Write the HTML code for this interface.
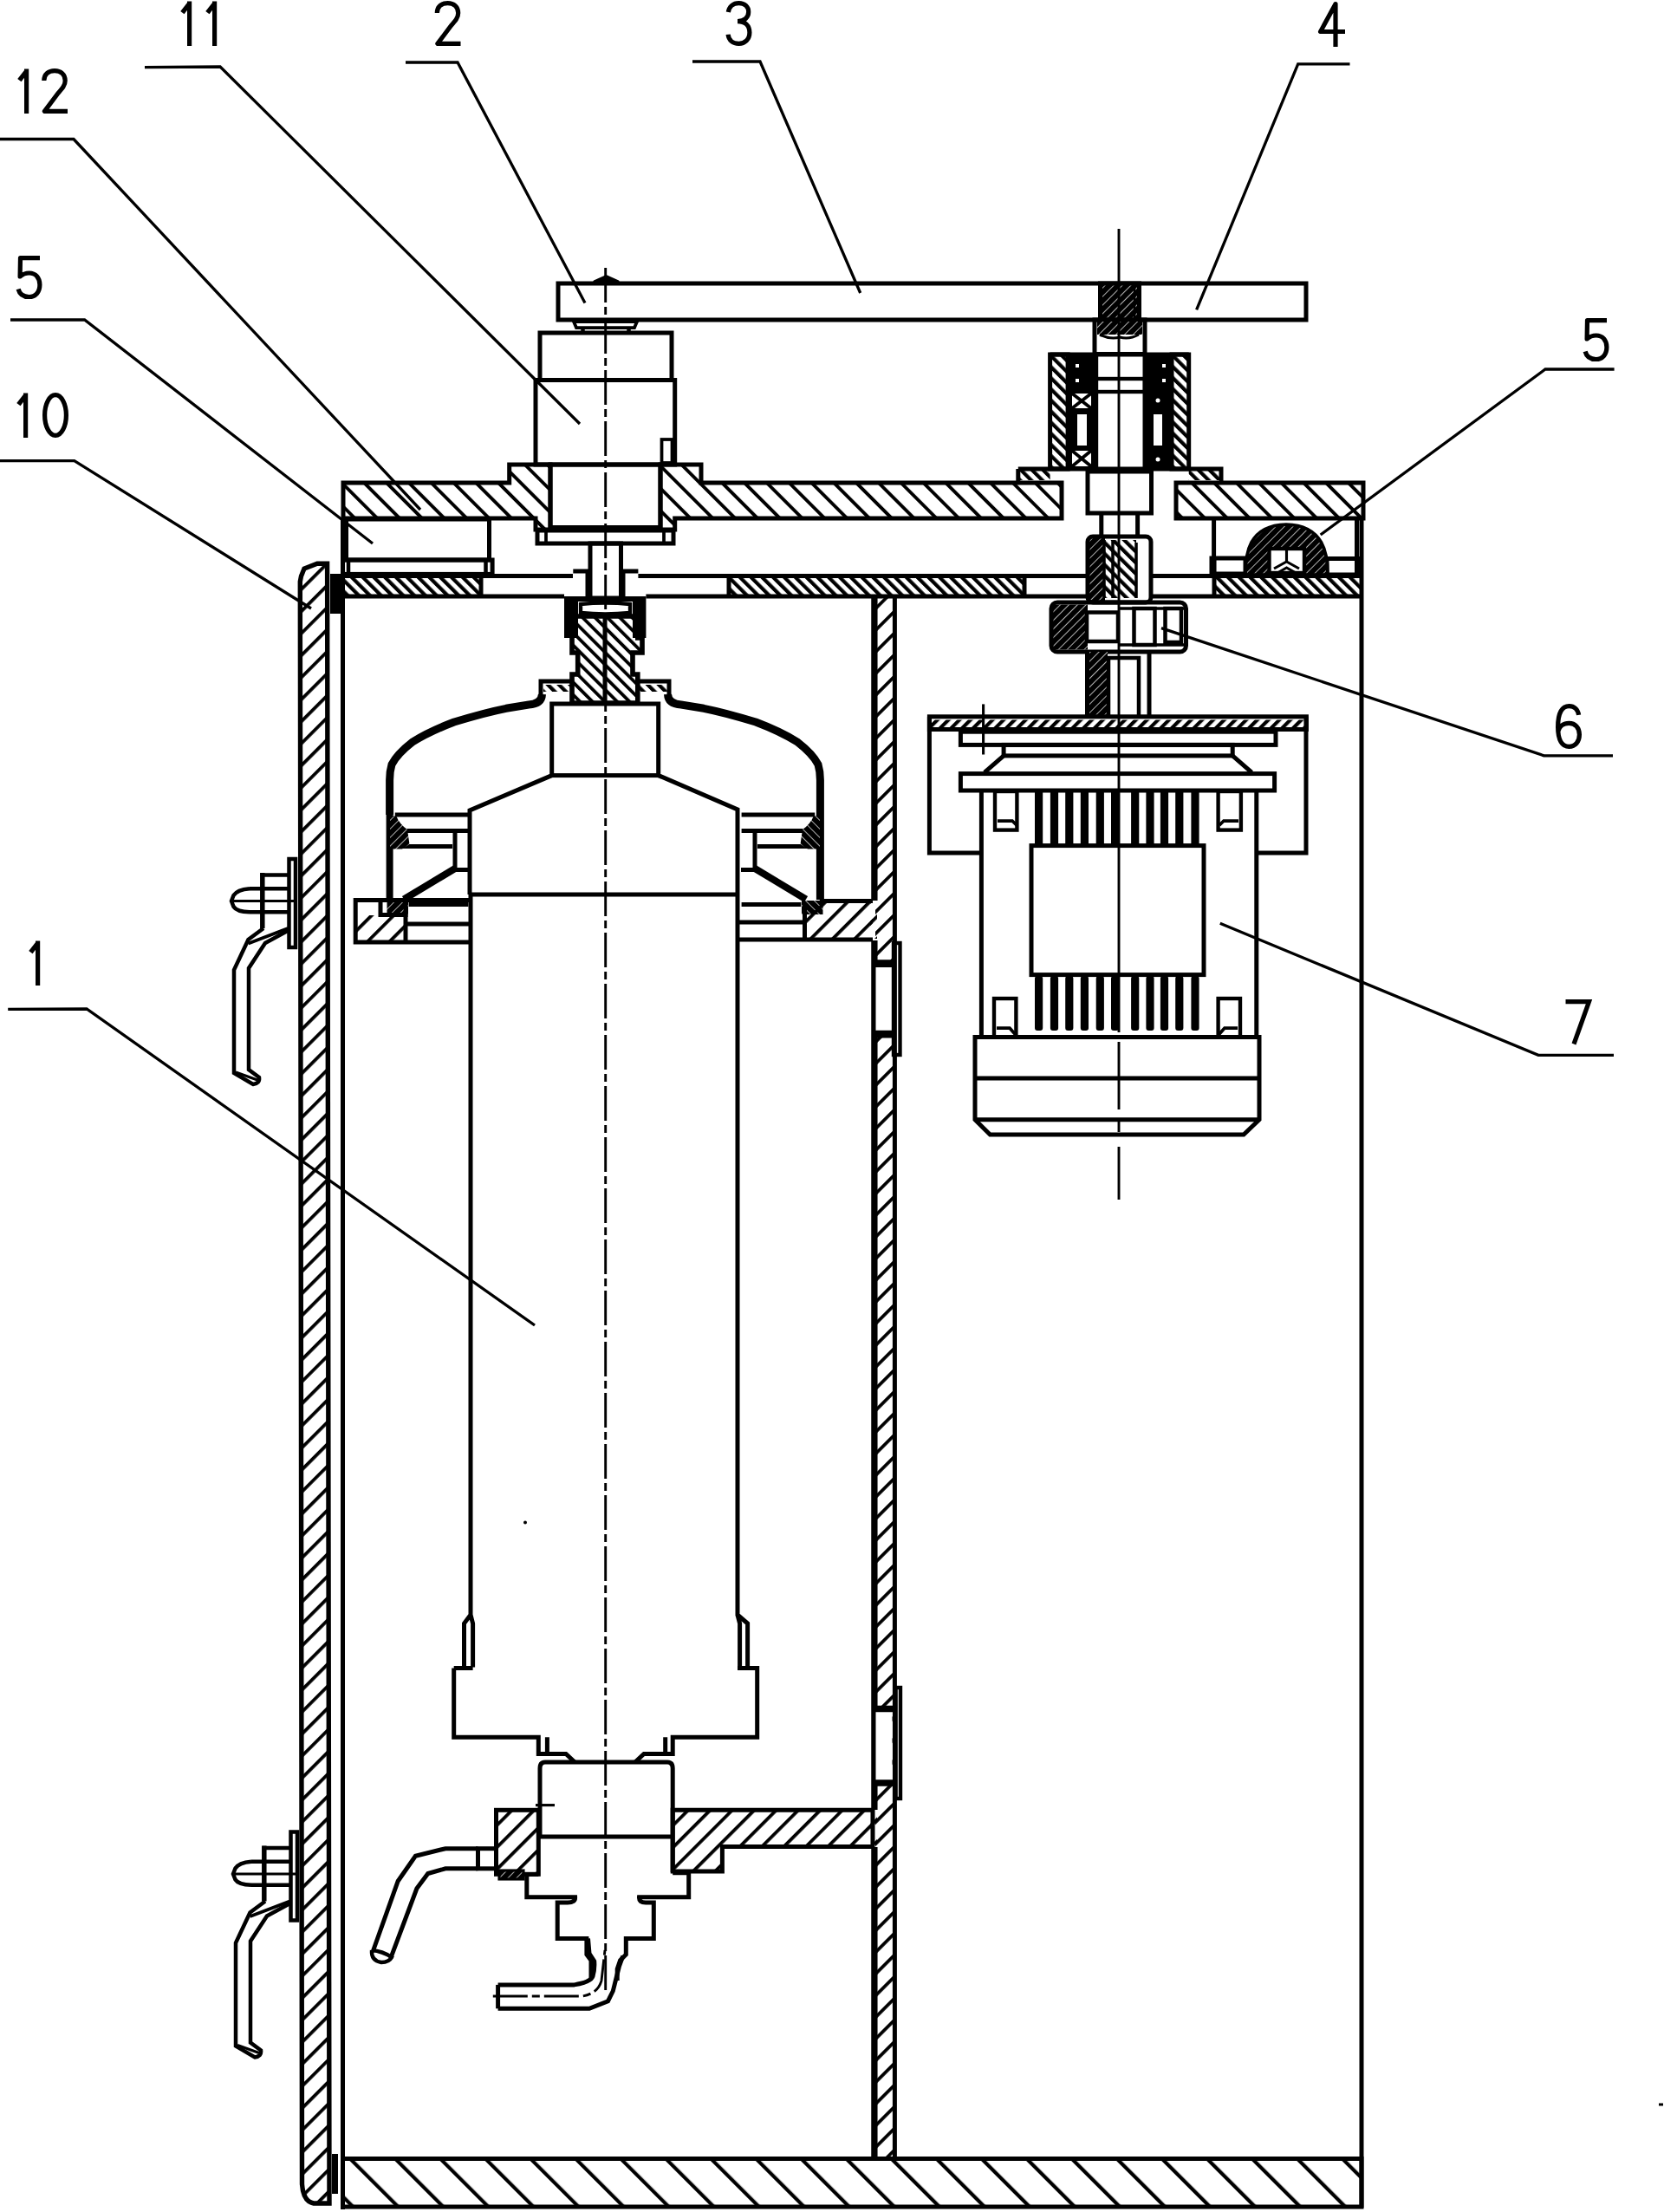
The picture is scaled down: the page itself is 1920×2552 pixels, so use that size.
<!DOCTYPE html>
<html><head><meta charset="utf-8"><title>Drawing</title>
<style>
html,body{margin:0;padding:0;background:#fff;}
svg{display:block;}
text{font-family:"Liberation Sans",sans-serif;}
</style></head>
<body>
<svg width="1920" height="2552" viewBox="0 0 1920 2552">
<defs>
<pattern id="hb25" patternUnits="userSpaceOnUse" width="18.25" height="18.25" patternTransform="rotate(-45) translate(10.8,0)"><rect x="0" y="0" width="3.9" height="18.25" fill="#000"/></pattern>
<pattern id="hf25" patternUnits="userSpaceOnUse" width="17.967" height="17.967" patternTransform="rotate(45) translate(6.05,0)"><rect x="0" y="0" width="3.8" height="17.967" fill="#000"/></pattern>
<pattern id="hfW" patternUnits="userSpaceOnUse" width="17.68" height="17.68" patternTransform="rotate(45) translate(6.7,0)"><rect x="0" y="0" width="3.8" height="17.68" fill="#000"/></pattern>
<pattern id="hb17" patternUnits="userSpaceOnUse" width="10.1" height="10.1" patternTransform="rotate(-45)"><rect x="0" y="0" width="3.8" height="10.1" fill="#000"/></pattern>
<pattern id="hb13" patternUnits="userSpaceOnUse" width="9.05" height="9.05" patternTransform="rotate(-45) translate(4,0)"><rect x="0" y="0" width="4.2" height="9.05" fill="#000"/></pattern>
<pattern id="hf13" patternUnits="userSpaceOnUse" width="9" height="9" patternTransform="rotate(45)"><rect x="0" y="0" width="4.2" height="9" fill="#000"/></pattern>
<pattern id="hb36" patternUnits="userSpaceOnUse" width="36.8" height="36.8" patternTransform="rotate(-45) translate(31.3,0)"><rect x="0" y="0" width="4.2" height="36.8" fill="#000"/></pattern>
<pattern id="hf20" patternUnits="userSpaceOnUse" width="14" height="14" patternTransform="rotate(45)"><rect x="0" y="0" width="2.8" height="14" fill="#000"/></pattern>
<pattern id="dark" patternUnits="userSpaceOnUse" width="7" height="7" patternTransform="rotate(45)"><rect x="0" y="0" width="7" height="7" fill="#000"/><rect x="0" y="0" width="0.7" height="7" fill="#fff"/></pattern>
<g id="g1"><path d="M2.4,13.6 L10.6,3.2" stroke-width="5.4"/><path d="M10.6,0.5 V52"/></g>
<g id="g2"><path d="M2.8,14 C2.8,6.5 8,2.6 15,2.6 C22.2,2.6 27.2,7 27.2,14 C27.2,19.5 24,23 19,28.5 L3.4,49.4 H30"/></g>
<g id="g3"><path d="M2.8,13 C3.8,6.5 8.5,2.6 15,2.6 C21.8,2.6 26.2,6.8 26.2,12.8 C26.2,19 21.5,23.6 13.5,23.6 M13.5,23.6 C22.5,23.6 27.4,28.5 27.4,36.5 C27.4,44.5 22,49.4 15,49.4 C8,49.4 3.3,45.5 2.6,38.8"/></g>
<g id="g4"><path d="M20,52 V2.6 L2.6,34.5 H31" stroke-linejoin="round"/></g>
<g id="g5"><path d="M27.5,2.6 H5 L4.6,24 C7.5,21.5 11,20 15.2,20 C22.6,20 27.4,25.5 27.4,33.5 C27.4,42 22.5,47.5 15,47.5 C8.5,47.5 4,44 2.6,38.5"/></g>
<g id="g6"><path d="M26.6,12.8 C25.6,6.6 21.4,2.6 15.6,2.6 C7.5,2.6 2.6,10 2.6,26.8 C2.6,42.2 7.6,49.4 15.4,49.4 C22.6,49.4 27.4,43.8 27.4,35.6 C27.4,27.6 22.6,22.4 15.4,22.4 C9,22.4 4.2,26 2.8,31.8"/></g>
<g id="g7"><path d="M0.5,2.6 H27.5 L10,51.5" stroke-linejoin="miter"/></g>
<g id="g0"><ellipse cx="15" cy="26" rx="12.4" ry="23.4"/></g>
</defs>
<rect x="0" y="0" width="1920" height="2552" fill="#fff"/>

<!-- ===== LABELS ===== -->
<g fill="none" stroke="#000" stroke-width="5.2" stroke-linejoin="round">
<use href="#g1" x="208" y="1"/><use href="#g1" x="237" y="1"/>
<use href="#g2" x="501.5" y="1"/>
<use href="#g3" x="837.5" y="1"/>
<use href="#g4" x="1521" y="2"/>
<use href="#g1" x="20" y="79"/><use href="#g2" x="48" y="79"/>
<use href="#g5" x="18.5" y="295"/>
<use href="#g1" x="19" y="453"/><use href="#g0" x="49" y="453"/>
<use href="#g5" x="1826.5" y="367"/>
<use href="#g6" x="1795" y="812"/>
<use href="#g7" x="1806" y="1153"/>
<use href="#g1" x="33" y="1085"/>
</g>

<!-- ===== LEADERS ===== -->
<g fill="none" stroke="#000" stroke-width="3.3" stroke-linejoin="miter">
<polyline points="167,77.7 254,77 669,489"/>
<polyline points="468,72 528,72 675,349.5"/>
<polyline points="799,71 877,71 992.7,338"/>
<polyline points="1557.5,73.8 1497.7,73.8 1380.6,357.4"/>
<polyline points="0,160.5 85,160.5 485,588"/>
<polyline points="12,369 97.6,369 430,627"/>
<polyline points="0,531.7 85.8,531.7 359,702"/>
<polyline points="9.2,1164.4 100,1164 617,1529"/>
<polyline points="1862.6,426 1783,426 1523.7,617"/>
<polyline points="1861,871.8 1781.4,871.8 1340,724.6"/>
<polyline points="1862,1217.3 1775,1217.3 1407.8,1065.3"/>
</g>

<!-- MAIN -->
<g id="main" fill="none" stroke="#000" stroke-width="5" stroke-linejoin="miter">
<!-- UPPER MECHANISM -->
<g id="upper">
<!-- arm 3 -->
<path d="M644,327 H1507 V369 H644 Z"/>
<path d="M683,327 L685,323.5 L699.5,317 L714,323.5 L716,327 Z" fill="#000" stroke="none"/>
<rect x="1269.5" y="327" width="45" height="42" fill="url(#dark)"/>
<path d="M1309,329 V368" stroke-width="2.5"/>
<!-- washer under arm left -->
<path d="M662,371 H735 L732,378 H665 Z" stroke-width="3.75"/>
<path d="M672.5,378 V383 M725.5,378 V383" stroke-width="4.5"/>
<!-- spindle 11 -->
<rect x="623" y="384" width="152" height="54.5"/>
<rect x="618" y="438.5" width="160.7" height="97.5"/>
<rect x="763.5" y="507" width="12" height="27" stroke-width="3.75"/>
<rect x="635" y="536" width="127" height="72.5"/>
<rect x="620" y="612" width="157" height="15"/>
<path d="M630,612 V628 M766,612 V628" stroke-width="3.75"/>
<rect x="681" y="627" width="35.5" height="63"/>
<!-- right collar & housing -->
<rect x="1263" y="369" width="58" height="39.5"/>
<rect x="1266" y="371" width="52" height="15" fill="url(#dark)" stroke="none"/>
<path d="M1269,386 Q1281,392 1292,389 Q1303,392 1314,386" stroke-width="3.12"/>
<rect x="1211.6" y="409" width="20.5" height="132" fill="url(#hb13)"/>
<rect x="1352" y="409" width="19.7" height="132" fill="url(#hb13)"/>
<path d="M1211.6,409 H1371.7"/>
<rect x="1232" y="411" width="32.7" height="41" fill="#000" stroke="none"/>
<rect x="1321" y="411" width="31" height="41" fill="#000" stroke="none"/>
<rect x="1232" y="452" width="32.7" height="88" fill="#000" stroke="none"/>
<rect x="1237" y="454" width="22" height="17" fill="#fff" stroke="none"/>
<path d="M1237,454 L1259,471 M1259,454 L1237,471" stroke-width="3.75"/>
<rect x="1237" y="520" width="22" height="18" fill="#fff" stroke="none"/>
<path d="M1237,520 L1259,538 M1259,520 L1237,538" stroke-width="3.75"/>
<rect x="1243" y="478" width="11" height="36" fill="#fff" stroke="none"/>
<rect x="1321" y="452" width="31" height="88" fill="#000" stroke="none"/>
<rect x="1331" y="478" width="10" height="36" fill="#fff" stroke="none"/>
<rect x="1241" y="420" width="4" height="4" fill="#fff" stroke="none"/>
<rect x="1241" y="437" width="4" height="4" fill="#fff" stroke="none"/>
<rect x="1341" y="420" width="4" height="4" fill="#fff" stroke="none"/>
<rect x="1341" y="437" width="4" height="4" fill="#fff" stroke="none"/>
<circle cx="1336" cy="462" r="2.5" fill="#fff" stroke="none"/>
<circle cx="1336" cy="530" r="2.5" fill="#fff" stroke="none"/>
<path d="M1264.7,408 V540 M1321,408 V540"/>
<rect x="1264.7" y="437" width="56.3" height="15" stroke-width="4.38"/>
<path d="M1174.8,541 H1409 V555 M1174.8,541 V555" />
<rect x="1176.8" y="543" width="34.8" height="11" fill="url(#hb13)" stroke="none"/>
<rect x="1371.7" y="543" width="35.3" height="11" fill="url(#hb13)" stroke="none"/>
<!-- right shaft below housing -->
<rect x="1255" y="544" width="73.5" height="48"/>
<path d="M1270.8,592 V621 M1312.6,592 V621"/>
<!-- coupling 6 -->
<rect x="1257" y="621" width="18" height="72" fill="url(#dark)" stroke="none"/>
<rect x="1274" y="623" width="37" height="67" fill="url(#hb13)" stroke="none"/>
<path d="M1274,623 V690 M1311,626 V690 M1284,623 V690" stroke-width="3.5"/>
<rect x="1255" y="619" width="73" height="76" rx="6"/>
<rect x="1215" y="697.5" width="40" height="52" fill="url(#dark)" stroke="none"/>
<rect x="1213" y="695" width="155.5" height="57" rx="7"/>
<rect x="1254" y="706.5" width="36" height="33.5" fill="#fff" stroke-width="4.5"/>
<path d="M1290,702 H1368 M1290,744 H1368" stroke-width="3.5"/>
<rect x="1308.5" y="702" width="24" height="42" stroke-width="4.5"/>
<rect x="1344.5" y="702" width="18.5" height="39" stroke-width="4.5"/>
<rect x="1256" y="752" width="22" height="73" fill="url(#dark)" stroke="none"/>
<path d="M1254.5,752 V826 M1326,752 V826"/>
<path d="M1279,826 V759 H1314 V826" stroke-width="4.5"/>
</g>
<!-- FILTER TOP -->
<g id="filtertop">
<!-- nut on lower plate -->
<path d="M661.3,659 H678 V688 M719,688 V659 H736.4" />
<rect x="651" y="688" width="94.4" height="48" fill="#000" stroke="none"/>
<rect x="656" y="693" width="85" height="39" fill="url(#hb13)" stroke="none"/>
<rect x="667" y="694" width="63" height="42" fill="#fff" stroke="none"/>
<path d="M670,697 Q698,694 727,697 V707 Q698,710 670,707 Z" stroke-width="4.38"/>
<!-- coupling shaft (hatched) -->
<path d="M660,711 H735.8 V736 H741 V753 H730 V778 H735.8 V811 H660 V778 H666.7 V753 H660 Z" fill="url(#hb17)" stroke-width="5.62"/>
<path d="M698,712 V810" stroke-width="5"/>
<!-- dome flange -->
<path d="M624,801 V786 H660 M736,786 H772 V801" />
<rect x="627" y="790" width="32" height="8" fill="url(#hb13)" stroke="none"/>
<rect x="737" y="790" width="33" height="8" fill="url(#hb13)" stroke="none"/>
<!-- dome -->
<path d="M625.5,801 Q625,812 610,813 L584,817.3 Q560,822 524,833 Q495,844 476,856 Q458,870 452,882 Q449.6,890 449.6,900 V940" stroke-width="9"/>
<path d="M770.5,801 Q771,812 786,813 L812,817.3 Q836,822 872,833 Q901,844 920,856 Q938,870 944,882 Q946.4,890 946.4,900 V1038" stroke-width="9"/>
<path d="M449.6,940 V1038" stroke-width="8"/>
<!-- upper block -->
<rect x="636.7" y="812" width="123" height="82.6"/>
<!-- cone to body -->
<path d="M636.7,894.6 L542,935 V1032 M759.7,894.6 L851,934 V1032"/>
<!-- left ring/seal under dome -->
<g id="ringL">
<path d="M455.8,940 H540.4 M469.2,958.4 H540.4 M462.5,976.4 H522 M525,958.8 V1003 M525,1003.5 H541"/>
<path d="M450,941 L457,941 Q461,951 470,957 L472.5,974 L464,979.5 L450,979.5 Z" fill="url(#dark)" stroke="none"/>
<path d="M466,1037.5 L525,1002" stroke-width="8"/>
<rect x="446.5" y="1039" width="24.5" height="16" fill="url(#dark)" stroke="none"/>
<path d="M471.6,1043.5 H540.4"/>
</g>
<use href="#ringL" transform="translate(1396,0) scale(-1,1)"/>
<!-- body top line -->
<path d="M542,1032 H851"/>
<!-- left bracket -->
<path d="M543,1038.5 H410.2 V1087 H543"/>
<path d="M468,1066 H543 M468,1040 V1087 M439,1039.5 V1055.4 H470.8"/>
<rect x="412" y="1056" width="55" height="29" fill="url(#hf25)" stroke="none"/>
<!-- right bracket -->
<path d="M851,1064 H928.5 M851,1084 H1007 M945.8,1039.5 H1007"/>
<path d="M928.5,1041 V1084" />
<path d="M930,1041 H1007 V1083 H930 Z" fill="url(#hf25)" stroke="none"/>
</g>
<!-- PART 5 LEFT -->
<rect x="399.5" y="599" width="165" height="47"/>
<rect x="395.5" y="646" width="172.6" height="16.4"/>
<path d="M402,646 V662 M560.5,646 V662" stroke-width="4.5"/>
<!-- PART 5 RIGHT -->
<path d="M1400.6,599 V664 M1565.5,599 V664"/>
<rect x="1398" y="644" width="39" height="18"/>
<rect x="1531" y="644.5" width="36" height="18.5"/>
<path d="M1437,663 C1437,640 1440,606 1484,605 C1528,606 1532,640 1532,663 Z" fill="url(#dark)" stroke-width="3.75"/>
<rect x="1464.5" y="633" width="40.5" height="28" fill="#fff" stroke-width="4.38"/>
<path d="M1484.5,633 V648 M1470,656 L1484.5,648 L1499,656 M1474,661 L1484.5,655 L1495,661 Z" stroke-width="3.12"/>
<!-- CENTER LINES -->
<path d="M698.7,309 V2300" stroke-width="2.9" stroke-dasharray="40 5 9 5"/>
<path d="M1291,264 V1191 M1291,1202 V1280 M1291,1292 V1306 M1291,1323 V1384" stroke-width="2.9"/>
<!-- FILTER BODY -->
<path d="M543,1032 V1863 L535.5,1873 V1923.4 M543,1863 L545.6,1873 V1923.4"/>
<path d="M523.7,1924.4 H545.6 M523.7,1924.4 V2004.2 H621.3 V2023.5 H653 L663,2032.8"/>
<path d="M851,1032 V1863 L862.6,1873 V1923.4 M851,1863 L853.6,1873 V1923.4"/>
<path d="M851,1924.4 H873.7 V2004.2 H776.2 V2023.5 H743 L733,2032.8"/>
<path d="M631.4,2004.2 V2024.4 M767.7,2004.2 V2024.4"/>
<path d="M629,2033 H770 Q776.2,2033 776.2,2040 V2160 M623,2040 Q623,2033 629,2033 M623,2040 V2119 H776.2"/>
<path d="M618,2082.6 H640" stroke-width="3.12"/>
<!-- left small hatched block -->
<rect x="572.5" y="2088.3" width="48.8" height="74" fill="url(#hf25)"/>
<rect x="576" y="2158" width="28" height="10" fill="url(#dark)" stroke-width="3.12"/>
<!-- lower right bracket -->
<path d="M776.2,2088.3 H1007 V2130.4 H833.4 V2159 H776.2 Z" fill="url(#hf25)"/>
<!-- stepped outlet -->
<path d="M621.3,2162.4 H607.8 V2188.8 H663.6 Q664,2195 655,2195 H643.2 V2236.4 H676.9 V2255 L682,2261.6 V2282"/>
<path d="M776.2,2160.7 H794.7 V2188.8 H737.5 Q737,2195 745,2195 H754.3 V2236.4 H722.3 V2255 L715.6,2261.6 L712.2,2271.7 V2285"/>
<!-- bottom outlet pipe -->
<path d="M574.6,2289.9 H662.6 Q681.3,2287 684,2280 Q686.5,2271 685.7,2262.5 L680,2253.8 L678.5,2236.5"/>
<path d="M574.6,2317.3 H680 L701.5,2308.7 L707.3,2297 L714.5,2268.3 L718.8,2256.7"/>
<path d="M574.6,2289.9 V2317.3"/>
<path d="M568.8,2303 H672 Q690,2300 694,2285 L698,2250" stroke-width="2.9" stroke-dasharray="40 5 9 5"/>
<!-- left pipe -->
<path d="M551.5,2132.7 H514 L479.4,2141.3 L459.2,2170.2 L430.4,2251"/>
<path d="M551.5,2155.8 H514 L493.8,2161.5 L480.9,2178.8 L450.6,2259.6"/>
<rect x="551.5" y="2132.7" width="21" height="23.1"/>
<path d="M429,2250 Q428,2262 440,2264 Q449,2264 452,2258 Q441,2251 429,2250" stroke-width="4.38"/>
<!-- HANDLES -->
<g id="handle" stroke-width="4.5">
<rect x="333.5" y="991" width="7.5" height="102"/>
<path d="M300.6,1009.4 H333.5 M288,1025.2 H333.5 M288,1052.2 H333.5"/>
<path d="M266.5,1039.5 H341" stroke-width="3"/>
<path d="M302.8,1007 V1071" stroke-width="5.5"/>
<path d="M288,1025.2 C278,1026 272,1029 269.5,1033 L267,1039.5 L269.5,1046 C272,1050 278,1052 288,1052.2"/>
<path d="M304,1071 L286.5,1084 L270,1119 V1238 L292,1251 Q300,1250 299,1243 L287,1234 V1117 L306,1088 L333.5,1073"/>
<path d="M286.5,1088.5 L332.3,1071" stroke-width="4"/>
<path d="M272,1237 L297,1246" stroke-width="3"/>
</g>
<use href="#handle" transform="translate(2,1122.5)"/>
<rect x="383" y="2485" width="7" height="46" fill="#000" stroke="none"/>
<!-- MOTOR 7 -->
<g id="motor">
<rect x="1072.4" y="826.8" width="435" height="14.7"/>
<rect x="1075" y="830.5" width="430" height="9.5" fill="url(#hf13)" stroke="none"/>
<path d="M1072.4,826.8 V983.9 H1133.3 M1507,826.8 V983.9 H1449.8"/>
<rect x="1108.4" y="844.2" width="363.6" height="15.2"/>
<rect x="1158.1" y="859.4" width="264.1" height="12.5"/>
<path d="M1158.1,871.9 L1136,891.2 M1422.2,871.9 L1444.3,891.2"/>
<rect x="1108.4" y="892.6" width="362.2" height="19.4"/>
<path d="M1134.6,812.4 V870.5" stroke-width="3.12"/>
<path d="M1132.4,912 V1196.5 M1449.8,912 V1196.5"/>
<rect x="1148" y="913" width="25.4" height="44.6" stroke-width="4.38"/>
<path d="M1151,947 H1168 L1173,952" stroke-width="3.75"/>
<rect x="1405.6" y="913" width="26.3" height="44.6" stroke-width="4.38"/>
<path d="M1429,947 H1412 L1407,952" stroke-width="3.75"/>
<rect x="1194.0" y="914" width="9.2" height="61" fill="#000" stroke="none"/><rect x="1211.9" y="914" width="9.2" height="61" fill="#000" stroke="none"/><rect x="1229.2" y="914" width="9.2" height="61" fill="#000" stroke="none"/><rect x="1246.8" y="914" width="9.2" height="61" fill="#000" stroke="none"/><rect x="1264.7" y="914" width="9.2" height="61" fill="#000" stroke="none"/><rect x="1282.0" y="914" width="9.2" height="61" fill="#000" stroke="none"/><rect x="1305.1" y="914" width="9.2" height="61" fill="#000" stroke="none"/><rect x="1322.4" y="914" width="9.2" height="61" fill="#000" stroke="none"/><rect x="1338.9" y="914" width="9.2" height="61" fill="#000" stroke="none"/><rect x="1356.2" y="914" width="9.2" height="61" fill="#000" stroke="none"/><rect x="1374.4" y="914" width="9.2" height="61" fill="#000" stroke="none"/>
<rect x="1190" y="975.6" width="199" height="149"/>
<rect x="1194.0" y="1126" width="9.2" height="63" rx="3" fill="#000" stroke="none"/><rect x="1211.9" y="1126" width="9.2" height="63" rx="3" fill="#000" stroke="none"/><rect x="1229.2" y="1126" width="9.2" height="63" rx="3" fill="#000" stroke="none"/><rect x="1246.8" y="1126" width="9.2" height="63" rx="3" fill="#000" stroke="none"/><rect x="1264.7" y="1126" width="9.2" height="63" rx="3" fill="#000" stroke="none"/><rect x="1282.0" y="1126" width="9.2" height="63" rx="3" fill="#000" stroke="none"/><rect x="1305.1" y="1126" width="9.2" height="63" rx="3" fill="#000" stroke="none"/><rect x="1322.4" y="1126" width="9.2" height="63" rx="3" fill="#000" stroke="none"/><rect x="1338.9" y="1126" width="9.2" height="63" rx="3" fill="#000" stroke="none"/><rect x="1356.2" y="1126" width="9.2" height="63" rx="3" fill="#000" stroke="none"/><rect x="1374.4" y="1126" width="9.2" height="63" rx="3" fill="#000" stroke="none"/>
<rect x="1147" y="1152" width="25.4" height="44.6" stroke-width="4.38"/>
<path d="M1150,1186 H1165 L1172,1194" stroke-width="3.75"/>
<rect x="1405.6" y="1152" width="25.4" height="44.6" stroke-width="4.38"/>
<path d="M1428,1186 H1413 L1406,1194" stroke-width="3.75"/>
<path d="M1125,1196.5 H1453 V1291.7 L1435,1309 H1142.4 L1125,1291.7 Z"/>
<path d="M1125,1244 H1453 M1125,1291.7 H1453"/>
</g>
<!-- FRAME -->
<g id="frame">
<!-- top plate 12 -->
<path d="M396,557 H587.7 V536 H635 V611 H618 V598 H396 Z" fill="url(#hb25)"/>
<path d="M762,536 H809 V557 H1225 V598 H778.7 V611 H762 Z" fill="url(#hb25)"/>
<path d="M1357,557 H1573 V598 H1357 Z" fill="url(#hb25)"/>
<!-- lower plate 10 -->
<path d="M395.5,664.5 H661 M736.4,664.5 H1255 M1328.5,664.5 H1573 M395.5,688 H651 M745.4,688 H1255 M1328.5,688 H1573"/>
<rect x="397" y="666" width="158" height="21" fill="url(#hb13)" stroke="none"/>
<path d="M555,664.5 V688"/>
<rect x="841" y="666" width="341" height="21" fill="url(#hb13)" stroke="none"/>
<path d="M841,664.5 V688 M1182,664.5 V688"/>
<rect x="1401" y="666" width="170" height="21" fill="url(#hb13)" stroke="none"/>
<path d="M1401,645 V688"/>
<!-- inner left wall -->
<path d="M395.5,599 V2549"/>
<!-- right outer wall -->
<path d="M1571,599 V2547"/>
<!-- middle wall -->
<rect x="1010" y="688" width="21" height="1802.5" fill="url(#hfW)" stroke="none"/>
<path d="M1008.9,686 V1039 M1008.9,1085 V2088 M1008.9,2131 V2490.5" stroke-width="7.3"/>
<rect x="1004" y="1041" width="8" height="42" fill="url(#hf25)" stroke="none"/>
<rect x="1004" y="2090.5" width="8" height="38" fill="url(#hf25)" stroke="none"/>
<path d="M1032.4,686 V2490.5" stroke-width="5"/>
<!-- bottom plate -->
<rect x="395.5" y="2490.5" width="1175.5" height="55.5" fill="url(#hb36)"/>
<!-- door -->
<path d="M346.3,671 L347.5,664.7 L351,656 L366,650.3 H377.6 L380,2542 H362 Q350,2540 348.5,2520 Z" fill="url(#hf25)" stroke-width="5.4"/>
<rect x="381" y="662" width="12" height="46" fill="#000" stroke="none"/>
</g>
<!-- middle wall windows -->
<rect x="1010.5" y="1112" width="19" height="80" fill="#fff" stroke="none"/>
<path d="M1008,1111.5 H1031 M1008,1193 H1031" stroke-width="8.75"/>
<rect x="1031" y="1088" width="7.5" height="129" stroke-width="4.38"/>
<rect x="1010.5" y="1972" width="19" height="84" fill="#fff" stroke="none"/>
<path d="M1008,1971.5 H1031 M1008,2057 H1031" stroke-width="7.5"/>
<rect x="1033.6" y="1947" width="5.4" height="128" stroke-width="4.38"/>
<circle cx="606" cy="1756.5" r="2" fill="#000" stroke="none"/>
<rect x="1914" y="2426.5" width="5" height="3" fill="#000" stroke="none"/>
</g>

</svg>
</body></html>
